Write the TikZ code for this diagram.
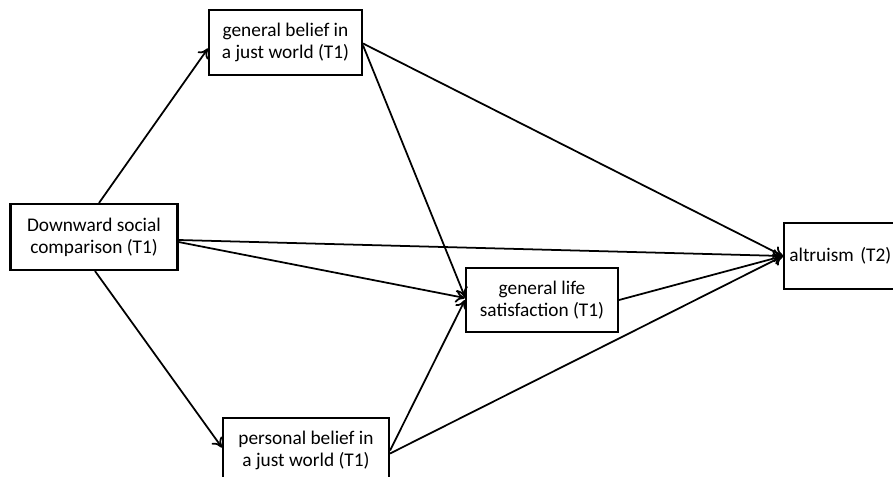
\documentclass[tikz,border=0pt]{standalone}
\usepackage{fontspec}
\setmainfont{Carlito}
\usetikzlibrary{arrows.meta,calc}
\begin{document}
\begin{tikzpicture}[x=0.03cm, y=-0.03cm,
  box/.style={draw, line width=1.8pt, align=center, inner sep=0pt,
    font=\fontsize{16.5}{19}\selectfont},
  link/.style={-{To[length=8pt,width=11pt]}, line width=1.5pt}]
  \clip (0,0) rectangle (893,477);
  % boxes
  \node[box, minimum width=142.5pt, minimum height=56.3pt] (down) at (94,237) {Downward social\\comparison (T1)};
  \node[box, minimum width=130.6pt, minimum height=55.5pt] (gen) at (285.5,42.5) {general belief in\\a just world (T1)};
  \node[box, minimum width=129.7pt, minimum height=54.6pt] (life) at (542,300) {general life\\satisfaction (T1)};
  \node[box, anchor=west, text width=100pt, align=left, inner xsep=4.5pt, minimum height=56.3pt] (alt) at (783,256) {altruism (T2)};
  \node[box, minimum width=141.7pt, minimum height=55.5pt] (pers) at (306,450.5) {personal belief in\\a just world (T1)};
  % paths
  \draw[link] ($(down.north)+(5,0)$) -- ($(gen.west)+(0,6)$);
  \draw[link] ($(down.south)+(1,0)$) -- ($(pers.west)+(0,-3)$);
  \draw[link] ($(down.east)+(0,3)$) -- (alt.west);
  \draw[link] ($(down.east)+(0,5)$) -- ($(life.west)+(0,-2)$);
  \draw[link] ($(gen.east)+(0,1)$) -- (alt.west);
  \draw[link] ($(gen.east)+(0,3)$) -- ($(life.west)+(0,-3)$);
  \draw[link] (pers.east) -- (life.west);
  \draw[link] ($(pers.east)+(0,3)$) -- (alt.west);
  \draw[link] (life.east) -- (alt.west);
\end{tikzpicture}
\end{document}
